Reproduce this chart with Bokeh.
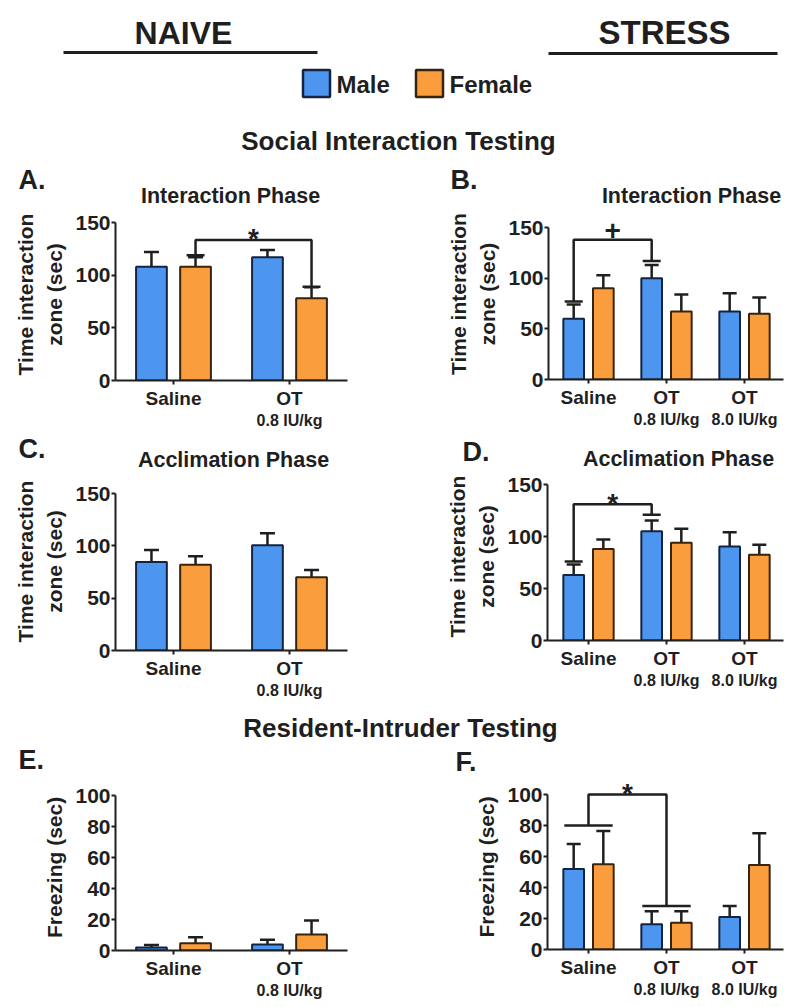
import numpy as np
from bokeh.plotting import figure
from bokeh.models import Range1d, FixedTicker, Label, Whisker, TeeHead, ColumnDataSource, LinearAxis
from bokeh.layouts import column, row
from bokeh.embed import file_html
from bokeh.resources import INLINE

FONT = "Liberation Sans"
INK = "#1f1f1f"
BLUE = "#4D96EF"
ORANGE = "#FA9D3D"
BLUE_LINE = "#14233f"
ORANGE_LINE = "#3a230c"

# ---------------- data ----------------
sexes = ["Male", "Female"]
naive_groups = ["Saline", "OT"]
naive_doses = ["", "0.8 IU/kg"]
stress_groups = ["Saline", "OT", "OT"]
stress_doses = ["", "0.8 IU/kg", "8.0 IU/kg"]

# A. Naive - Interaction phase (time in interaction zone, sec)
a_male_mean = [108, 117]
a_male_sem = [14, 7]
a_female_mean = [108, 78]
a_female_sem = [9, 10.5]
# B. Stress - Interaction phase
b_male_mean = [60, 100, 67]
b_male_sem = [14, 13, 18]
b_female_mean = [90, 67, 65]
b_female_sem = [13, 17, 16]
# C. Naive - Acclimation phase
c_male_mean = [84.5, 100.5]
c_male_sem = [11.5, 11.5]
c_female_mean = [82, 70]
c_female_sem = [8, 7]
# D. Stress - Acclimation phase
d_male_mean = [63, 105, 90.5]
d_male_sem = [10, 10.5, 13.5]
d_female_mean = [88, 94, 82.5]
d_female_sem = [9, 13.5, 9.5]
# E. Naive - Resident-intruder freezing (sec)
e_male_mean = [2, 3.9]
e_male_sem = [1.6, 3]
e_female_mean = [4.7, 10.3]
e_female_sem = [3.9, 9.1]
# F. Stress - Resident-intruder freezing (sec)
f_male_mean = [52, 16.3, 21]
f_male_sem = [16, 8.4, 7]
f_female_mean = [55, 17.2, 54.5]
f_female_sem = [21.5, 7.5, 20.5]

# significance brackets
a_sig = dict(left=(0, "Female"), right=(1, "Female"), ends=[119, 89], top=133.5, mark="*")
b_sig = dict(left=(0, "Male"), right=(1, "Male"), ends=[77, 117], top=138, mark="+")
d_sig = dict(left=(0, "Male"), right=(1, "Male"), ends=[76, 121], top=131, mark="*")
f_sig = dict(left=(0, None), right=(1, None), ends=[80, 28], top=100, mark="*")

OFF = 0.19
BW = 0.265
BOTTOM = 51  # room under each x axis for the group and dose labels


def label(p, x, y, text, size, align="center", baseline="middle",
          xr="px", yr="px", yoff=0):
    p.add_layout(Label(x=x, y=y, x_range_name=xr, y_range_name=yr, text=text,
                       text_font=FONT, text_font_size=f"{size}px",
                       text_font_style="bold", text_color=INK,
                       text_align=align, text_baseline=baseline, y_offset=yoff))


def xpos(g, sex):
    if sex == "Male":
        return g - OFF
    if sex == "Female":
        return g + OFF
    return g


def blank(y0, y1):
    p = figure(width=800, height=y1 - y0,
               x_range=Range1d(0, 800), y_range=Range1d(y1, y0),
               output_backend="svg", toolbar_location=None,
               x_axis_type=None, y_axis_type=None, min_border=0)
    p.extra_x_ranges = {"px": Range1d(0, 800)}
    p.extra_y_ranges = {"px": Range1d(y1, y0)}
    p.outline_line_color = None
    p.xgrid.visible = False
    p.ygrid.visible = False
    return p


def make_panel(x0, x1, top_y, axis_x, zero_px, x0_px, step_px, top_px, top_val, ticks,
               groups, doses, male, female, sig, ylabel, cap):
    ppy = (zero_px - top_px) / top_val
    xs = (axis_x - x0_px) / step_px
    xe = (x1 - x0_px) / step_px
    ye = (zero_px - top_y) / ppy
    n = len(groups)
    p = figure(width=x1 - x0, height=zero_px - top_y + BOTTOM,
               x_range=Range1d(xs, xe), y_range=Range1d(0, ye),
               output_backend="svg", toolbar_location=None,
               min_border_left=axis_x - x0, min_border_right=0,
               min_border_top=0, min_border_bottom=BOTTOM)
    p.outline_line_color = None
    p.xgrid.visible = False
    p.ygrid.visible = False
    p.background_fill_color = "white"
    p.border_fill_color = "white"

    for ax in (p.xaxis[0], p.yaxis[0]):
        ax.axis_line_width = 2
        ax.axis_line_color = INK
        ax.major_tick_line_width = 2
        ax.major_tick_line_color = INK
        ax.major_tick_in = 0
        ax.major_tick_out = 4
        ax.minor_tick_line_color = None
        ax.major_label_text_font = FONT
        ax.major_label_text_font_style = "bold"
        ax.major_label_text_color = INK
    p.yaxis.ticker = FixedTicker(ticks=ticks)
    p.yaxis.bounds = (0, top_val)
    p.yaxis.major_label_text_font_size = "21px"
    p.yaxis.major_label_standoff = 1
    p.yaxis.axis_label = ylabel
    p.yaxis.axis_label_text_font = FONT
    p.yaxis.axis_label_text_font_style = "bold"
    p.yaxis.axis_label_text_font_size = "21px"
    p.yaxis.axis_label_text_color = INK
    p.yaxis.axis_label_standoff = 6
    p.yaxis.axis_label_text_line_height = 1.3
    p.xaxis.ticker = FixedTicker(ticks=list(range(n)))
    p.xaxis.bounds = (xs, n - 0.5)
    p.xaxis.major_label_overrides = {i: g for i, g in enumerate(groups)}
    p.xaxis.major_label_text_font_size = "19px"
    p.xaxis.major_label_standoff = 3

    # dose sub-labels: a second, line-less axis under the first
    dose_ticks = [i for i, d in enumerate(doses) if d]
    sub = LinearAxis(ticker=FixedTicker(ticks=dose_ticks),
                     major_label_overrides={i: doses[i] for i in dose_ticks},
                     axis_line_color=None, major_tick_line_color=None,
                     minor_tick_line_color=None, major_tick_out=0, major_tick_in=0,
                     major_label_standoff=0, major_label_text_font=FONT,
                     major_label_text_font_style="bold", major_label_text_color=INK,
                     major_label_text_font_size="16px")
    p.add_layout(sub, "below")

    for (mean, sem), fill, line, sex in ((male, BLUE, BLUE_LINE, "Male"),
                                         (female, ORANGE, ORANGE_LINE, "Female")):
        src = ColumnDataSource(dict(
            x=[xpos(i, sex) for i in range(n)],
            top=list(mean),
            upper=[m + s for m, s in zip(mean, sem)]))
        p.add_layout(Whisker(source=src, base="x", upper="upper", lower="top",
                             upper_head=TeeHead(size=cap, line_width=2.5, line_color=INK),
                             lower_head=None, line_width=2.5, line_color=INK))
        p.vbar(x="x", top="top", bottom=0, width=BW, source=src,
               fill_color=fill, line_color=line, line_width=2)

    if sig is not None:
        lg, ls = sig["left"]
        rg, rs = sig["right"]
        lx, rx = xpos(lg, ls), xpos(rg, rs)
        yl, yr = sig["ends"]
        top = sig["top"]
        p.line([lx, lx, rx, rx], [yl, top, top, yr], line_width=2.5, line_color=INK)
        chl = 0.31 if ls is None else 9 / step_px
        chr_ = 0.31 if rs is None else 9 / step_px
        p.segment(x0=[lx - chl, rx - chr_], y0=[yl, yr], x1=[lx + chl, rx + chr_],
                  y1=[yl, yr], line_width=2.5, line_color=INK)
        yoff = 1 if sig["mark"] == "*" else 9
        label(p, (lx + rx) / 2, top, sig["mark"], 28, xr="default", yr="default",
              yoff=yoff)
    return p


TIZ = "Time interaction\nzone (sec)"
FZ = "Freezing  (sec)"

# rows: header 0-160 | band 160-208 | A,B 208-431 | band 431-472 | C,D 472-701
#       | mid 701-778 | E,F 778-1001
A = make_panel(0, 400, 208, 115, 380, 173, 116, 222, 150, [0, 50, 100, 150],
               naive_groups, naive_doses, (a_male_mean, a_male_sem),
               (a_female_mean, a_female_sem), a_sig, TIZ, 15)
B = make_panel(400, 800, 208, 548, 379, 588, 78, 227, 150, [0, 50, 100, 150],
               stress_groups, stress_doses, (b_male_mean, b_male_sem),
               (b_female_mean, b_female_sem), b_sig, TIZ, 14)
C = make_panel(0, 400, 472, 115, 650, 173, 116, 493, 150, [0, 50, 100, 150],
               naive_groups, naive_doses, (c_male_mean, c_male_sem),
               (c_female_mean, c_female_sem), None, TIZ, 15)
D = make_panel(400, 800, 472, 547, 640, 588, 78, 484, 150, [0, 50, 100, 150],
               stress_groups, stress_doses, (d_male_mean, d_male_sem),
               (d_female_mean, d_female_sem), d_sig, TIZ, 14)
E = make_panel(0, 400, 778, 115, 950, 173, 116, 795, 100, [0, 20, 40, 60, 80, 100],
               naive_groups, naive_doses, (e_male_mean, e_male_sem),
               (e_female_mean, e_female_sem), None, FZ, 15)
F = make_panel(400, 800, 778, 547, 949, 588, 78, 794, 100, [0, 20, 40, 60, 80, 100],
               stress_groups, stress_doses, (f_male_mean, f_male_sem),
               (f_female_mean, f_female_sem), f_sig, FZ, 14)

header = blank(0, 160)
label(header, 183, 32, "NAIVE", 32)
label(header, 664, 32, "STRESS", 33)
header.segment(x0=[63, 548], y0=[52, 53], x1=[317, 777], y1=[52, 53],
               line_width=3, line_color=INK)
header.rect(x=[316, 429], y=[83, 83], width=27, height=27,
            fill_color=[BLUE, ORANGE], line_color=[BLUE_LINE, ORANGE_LINE], line_width=2.5)
label(header, 336, 84, sexes[0], 24, align="left")
label(header, 449, 84, sexes[1], 24, align="left")
label(header, 398, 140, "Social Interaction Testing", 26)

band_ab = blank(160, 208)
label(band_ab, 18, 179, "A.", 27, align="left")
label(band_ab, 450, 179, "B.", 27, align="left")
label(band_ab, 233, 195, "Interaction  Phase", 21.5)
label(band_ab, 691, 195, "Interaction Phase", 21.5)

band_cd = blank(431, 472)
label(band_cd, 18, 448, "C.", 27, align="left")
label(band_cd, 462, 451, "D.", 27, align="left")
label(band_cd, 233, 459, "Acclimation Phase", 21.5)
label(band_cd, 678, 458, "Acclimation Phase", 21.5)

mid = blank(701, 778)
label(mid, 400, 727, "Resident-Intruder Testing", 26)
label(mid, 18, 759, "E.", 27, align="left")
label(mid, 455, 761, "F.", 27, align="left")

layout = column(header, band_ab, row(A, B), band_cd, row(C, D), mid, row(E, F))

with open("out.html", "w") as fh:
    fh.write(file_html(layout, INLINE))
